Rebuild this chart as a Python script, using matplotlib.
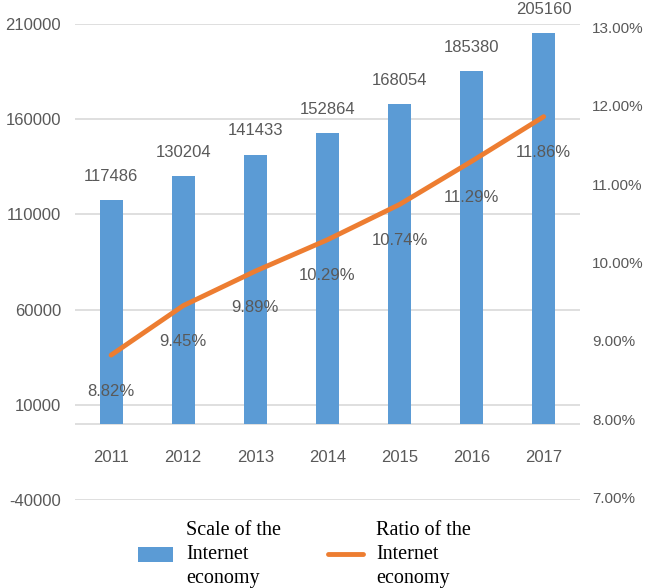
import matplotlib.pyplot as plt
from matplotlib.ticker import FuncFormatter

years = ["2011", "2012", "2013", "2014", "2015", "2016", "2017"]
scale = [117486, 130204, 141433, 152864, 168054, 185380, 205160]
ratio = [8.82, 9.45, 9.89, 10.29, 10.74, 11.29, 11.86]

left_ticks = [-40000, 10000, 60000, 110000, 160000, 210000]
right_ticks = [7, 8, 9, 10, 11, 12, 13]

BLUE = "#5B9BD5"
ORANGE = "#ED7D31"
GRAY = "#595959"
GRID = "#D9D9D9"
NUM_FONT = ["Liberation Sans", "DejaVu Sans"]

plt.rcParams["axes.unicode_minus"] = False

fig = plt.figure(figsize=(6.47, 5.88), dpi=100)
ax = fig.add_axes([0.116, 0.150, 0.780, 0.809])
ax2 = ax.twinx()

x = list(range(len(years)))
bars = ax.bar(x, scale, width=0.32, color=BLUE, zorder=3, label="Scale of the\nInternet\neconomy")
ax.set_xlim(-0.5, len(years) - 0.5)
ax.set_ylim(left_ticks[0], left_ticks[-1])
ax.set_yticks(left_ticks)
ax.yaxis.grid(True, color=GRID, linewidth=1.2, zorder=0)
ax.axhline(0, color=GRID, linewidth=1.2, zorder=1)
ax.set_xticks([])
for xi, yr in zip(x, years):
    ax.text(xi, -18000, yr, ha="center", va="center", fontsize=12, color=GRAY, family=NUM_FONT)
for xi, v in zip(x, scale):
    ax.text(xi, v + 12500, str(v), ha="center", va="center", fontsize=12, color=GRAY, family=NUM_FONT)

line, = ax2.plot(x, ratio, color=ORANGE, linewidth=3.5, solid_capstyle="round", zorder=4,
                 label="Ratio of the\nInternet\neconomy")
ax2.set_ylim(6.975, 13.04)
ax2.set_yticks(right_ticks)
ax2.yaxis.set_major_formatter(FuncFormatter(lambda v, _: f"{v:.2f}%"))
for xi, r in zip(x, ratio):
    ax2.annotate(f"{r:.2f}%", (xi, r), xytext=(0, -26), textcoords="offset points",
                 ha="center", va="center", fontsize=12, color=GRAY, family=NUM_FONT, zorder=5)

for a in (ax, ax2):
    for s in a.spines.values():
        s.set_visible(False)
    a.tick_params(length=0, labelcolor=GRAY)
ax.tick_params(axis="y", pad=10, labelsize=12)
ax2.tick_params(axis="y", pad=9, labelsize=11)
for lab in ax.get_yticklabels() + ax2.get_yticklabels():
    lab.set_family(NUM_FONT)

leg = fig.legend([bars, line], [bars.get_label(), line.get_label()], loc="upper left",
                 bbox_to_anchor=(138 / 647, 1 - 521 / 588), ncol=2, frameon=False,
                 borderpad=0, borderaxespad=0, handlelength=1.75, handleheight=0.75,
                 handletextpad=0.65, columnspacing=2.3,
                 prop={"family": "Liberation Serif", "size": 14.5})
for t in leg.get_texts():
    t.set_linespacing(1.35)

fig.savefig("out.png", dpi=100)
